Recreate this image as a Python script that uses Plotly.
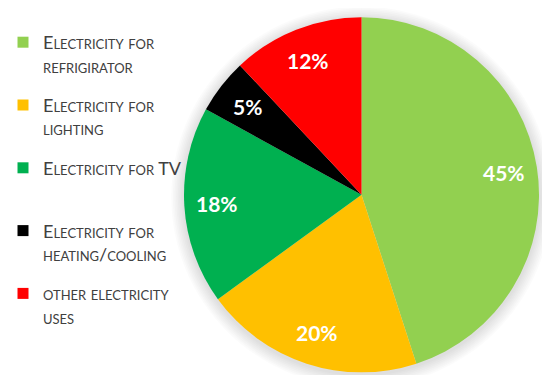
import math
import plotly.graph_objects as go

labels = [
    "Electricity for<br>refrigirator",
    "Electricity for<br>lighting",
    "Electricity for TV<br> ",
    "Electricity for<br>heating/cooling",
    "other electricity<br>uses",
]
values = [45, 20, 18, 5, 12]
colors = ["#92D050", "#FFC000", "#00B050", "#000000", "#FF0000"]

# page body has an 8px margin, so the figure is drawn 8px in from the window edge
W, H = 534, 367
dom_x = [176 / W, 531 / W]
dom_y = [1 - 364.7 / H, 1 - 9 / H]

fig = go.Figure()
fig.add_trace(go.Pie(
    labels=labels,
    values=values,
    sort=False,
    direction="clockwise",
    rotation=0,
    marker=dict(colors=colors, line=dict(width=0)),
    textinfo="none",
    showlegend=False,
    domain=dict(x=dom_x, y=dom_y),
    hoverinfo="label+percent",
))

for lab, col in zip(labels, colors):
    fig.add_trace(go.Scatter(
        x=[None], y=[None], mode="markers", name=lab, legendgroup=lab,
        marker=dict(symbol="square", size=11, color=col),
        showlegend=True, hoverinfo="skip",
    ))

cx = (dom_x[0] + dom_x[1]) / 2
cy = (dom_y[0] + dom_y[1]) / 2
R = min((dom_x[1] - dom_x[0]) * W, (dom_y[1] - dom_y[0]) * H) / 2

# percentage labels placed near the outer edge of each slice (derived from values)
total = sum(values)
annotations = []
cum = 0
for v in values:
    mid = (cum + v / 2) / total * 2 * math.pi
    cum += v
    r = 0.815 * R
    annotations.append(dict(
        x=cx + r * math.sin(mid) / W, y=cy + r * math.cos(mid) / H,
        xref="paper", yref="paper", xanchor="center", yanchor="middle",
        showarrow=False,
        text=f"{round(v / total * 100)}%",
        font=dict(family="Lato", size=21, color="white", weight="bold"),
    ))

# soft shadow around the pie
shapes = []
for k in range(1, 9):
    r = R + 1.6 * k
    shapes.append(dict(
        type="circle", xref="paper", yref="paper",
        xsizemode="pixel", ysizemode="pixel",
        xanchor=cx, yanchor=cy,
        x0=-r, x1=r, y0=-r - 2, y1=r - 2,
        fillcolor="rgba(0,0,0,0.016)", line=dict(width=0), layer="below",
    ))

fig.update_layout(
    width=W, height=H,
    margin=dict(l=0, r=0, t=0, b=0, autoexpand=False),
    paper_bgcolor="white", plot_bgcolor="white",
    xaxis=dict(visible=False), yaxis=dict(visible=False),
    shapes=shapes,
    annotations=annotations,
    legend=dict(
        x=-5 / W, y=1 - 16 / H, xanchor="left", yanchor="top",
        font=dict(family="Lato", size=18, color="#404040", variant="small-caps"),
        tracegroupgap=13, bgcolor="rgba(0,0,0,0)", valign="top",
    ),
)

fig.write_html("out.html")
